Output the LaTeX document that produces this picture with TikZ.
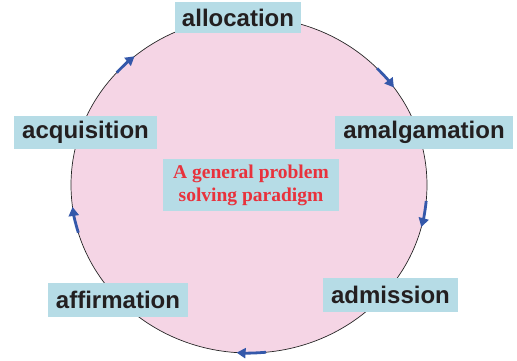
\documentclass[tikz,border=0pt]{standalone}
\usepackage{fontspec}
\setmainfont{Liberation Sans}
\newfontfamily\ctrfont{Liberation Serif}
\usetikzlibrary{arrows.meta}
\definecolor{boxblue}{RGB}{182,220,230}
\definecolor{pinkfill}{RGB}{245,213,229}
\definecolor{arrowblue}{RGB}{52,88,170}
\definecolor{redtext}{RGB}{232,50,60}
\definecolor{darktext}{RGB}{35,31,32}
\begin{document}
\begin{tikzpicture}[x=1pt,y=-1pt,
  labelbox/.style={fill=boxblue, inner sep=0pt, text=darktext,
    font=\fontsize{24}{28}\selectfont\bfseries},
  centerbox/.style={fill=boxblue, inner sep=0pt, text=redtext, align=center,
    font=\ctrfont\fontsize{19.5}{23}\selectfont\bfseries},
  cycleline/.style={fill=pinkfill, draw=black!85, line width=0.7pt},
  flow/.style={draw=arrowblue, line width=2.8pt, -{Triangle[width=10pt,length=9pt]}}]
\useasboundingbox (0,0) rectangle (517,361);
\coordinate (ctr) at (249,185);
\draw[cycleline] (ctr) ellipse [x radius=178, y radius=168];

\node[labelbox, minimum width=126pt, minimum height=31pt] (alloc) at (238,17.5) {allocation};
\node[labelbox, minimum width=143pt, minimum height=33pt] (acquis) at (85.5,132.5) {acquisition};
\node[labelbox, minimum width=178pt, minimum height=33pt] (amalg) at (424,132.5) {amalgamation};
\node[labelbox, minimum width=140pt, minimum height=34pt] (affirm) at (118,300) {affirmation};
\node[labelbox, minimum width=135pt, minimum height=34pt] (admis) at (390.5,295) {admission};
\node[centerbox, minimum width=176pt, minimum height=52pt] (para) at (251,185) {A general problem\\solving paradigm};

\draw[flow] (ctr) ++(-138:178 and 168) arc[start angle=-138, end angle=-130, x radius=178, y radius=168];
\draw[flow] (ctr) ++(-44:178 and 168) arc[start angle=-44, end angle=-35.5, x radius=178, y radius=168];
\draw[flow] (ctr) ++(5.5:178 and 168) arc[start angle=5.5, end angle=14.5, x radius=178, y radius=168];
\draw[flow] (ctr) ++(84.5:178 and 168) arc[start angle=84.5, end angle=94, x radius=178, y radius=168];
\draw[flow] (ctr) ++(163.5:178 and 168) arc[start angle=163.5, end angle=172.5, x radius=178, y radius=168];
\end{tikzpicture}
\end{document}
